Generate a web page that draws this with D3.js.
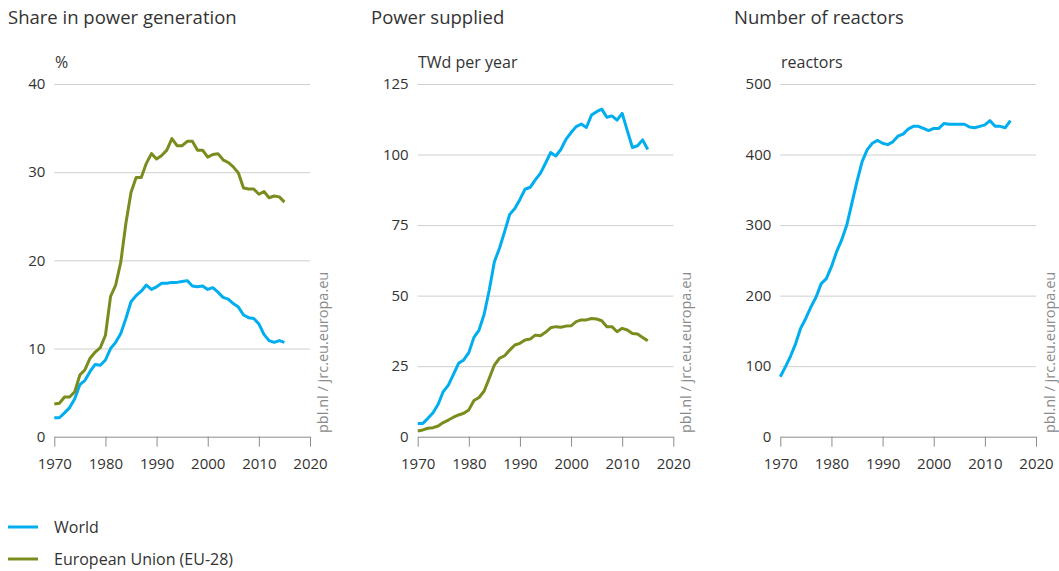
<!DOCTYPE html>
<html lang="en">
<head>
<meta charset="UTF-8" />
<title>Nuclear power</title>
<style>
  body { margin: 0; background: #fff; }
  svg text { font-family: "Open Sans", "Noto Sans", sans-serif; fill: #333; }
  .title { font-size: 18.5px; }
  .unit { font-size: 16px; }
  .tick text { font-size: 15px; fill: #333; }
  .grid line { stroke: #cfcfcf; stroke-width: 1; }
  .grid path { display: none; }
  .xaxis path, .xaxis line { stroke: #8c8c8c; }
  .source { font-size: 14.5px; fill: #8a8a8a !important; }
  .legend text { font-size: 16px; }
</style>
</head>
<body>
<svg id="chart" width="1059" height="571"></svg>
<script src="https://d3js.org/d3.v7.min.js"></script>
<script>
const years = d3.range(1970, 2016);

const worldShare = [2.15, 2.15, 2.7, 3.3, 4.3, 5.9, 6.4, 7.4, 8.2, 8.1,
  8.7, 10.0, 10.7, 11.7, 13.4, 15.3, 16.0, 16.5, 17.2, 16.7,
  17.0, 17.4, 17.4, 17.5, 17.5, 17.6, 17.7, 17.1, 17.0, 17.1,
  16.7, 16.9, 16.4, 15.8, 15.6, 15.1, 14.7, 13.8, 13.5, 13.4,
  12.8, 11.6, 10.9, 10.7, 10.9, 10.7];
const euShare = [3.7, 3.8, 4.5, 4.5, 5.1, 7.0, 7.6, 8.9, 9.6, 10.1,
  11.5, 15.9, 17.2, 19.8, 24.2, 27.7, 29.4, 29.4, 31.0, 32.1,
  31.5, 31.9, 32.5, 33.8, 33.0, 33.0, 33.5, 33.5, 32.5, 32.5,
  31.7, 32.0, 32.1, 31.4, 31.1, 30.6, 29.9, 28.2, 28.1, 28.1,
  27.5, 27.8, 27.1, 27.3, 27.2, 26.6];

const worldSupply = [4.7, 4.7, 6.5, 8.5, 11.5, 16.0, 18.3, 22.1, 26.0, 27.2,
  29.8, 35.2, 37.8, 43.4, 52.0, 62.0, 66.8, 72.7, 78.8, 80.9,
  84.1, 87.7, 88.4, 91.0, 93.3, 96.9, 100.7, 99.5, 101.8, 105.4,
  107.8, 109.9, 110.8, 109.6, 114.0, 115.2, 116.1, 113.2, 113.7, 112.2,
  114.6, 108.5, 102.5, 103.1, 105.2, 101.8];
const euSupply = [2.0, 2.4, 3.0, 3.2, 3.8, 5.0, 5.9, 6.9, 7.7, 8.3,
  9.5, 12.8, 13.9, 16.2, 20.7, 25.4, 27.8, 28.7, 30.7, 32.5,
  33.1, 34.3, 34.6, 36.0, 35.8, 37.0, 38.6, 39.0, 38.8, 39.2,
  39.3, 40.8, 41.4, 41.4, 41.9, 41.7, 41.1, 39.0, 39.0, 37.2,
  38.4, 37.8, 36.6, 36.4, 35.2, 34.0];

const worldReactors = [85, 99, 114, 132, 154, 168, 184, 198, 217, 224,
  241, 262, 279, 300, 331, 362, 390, 407, 416, 420,
  416, 414, 418, 426, 429, 436, 440, 440, 437, 434,
  437, 437, 444, 443, 443, 443, 443, 439, 438, 440,
  442, 448, 440, 440, 438, 448];

const xTicks = [1970, 1980, 1990, 2000, 2010, 2020];
const seriesNames = ['World', 'European Union (EU-28)'];
const colors = { 'World': '#00aeef', 'European Union (EU-28)': '#7a8c1e' };

const panels = [
  { title: 'Share in power generation', unit: '%', max: 40, ticks: [0, 10, 20, 30, 40],
    left: 54.3, right: 310, titleX: 8, unitX: 55, srcX: 328,
    series: [['World', worldShare], ['European Union (EU-28)', euShare]] },
  { title: 'Power supplied', unit: 'TWd per year', max: 125, ticks: [0, 25, 50, 75, 100, 125],
    left: 417.7, right: 673.3, titleX: 371, unitX: 418, srcX: 691,
    series: [['European Union (EU-28)', euSupply], ['World', worldSupply]] },
  { title: 'Number of reactors', unit: 'reactors', max: 500, ticks: [0, 100, 200, 300, 400, 500],
    left: 780.3, right: 1036, titleX: 734, unitX: 781, srcX: 1055,
    series: [['World', worldReactors]] }
];

const svg = d3.select('#chart');
const plotTop = 84, plotBottom = 436.7;

panels.forEach(p => {
  const g = svg.append('g');
  const x = d3.scaleLinear().domain([1970, 2020]).range([p.left, p.right]);
  const y = d3.scaleLinear().domain([0, p.max]).range([plotBottom, plotTop]);

  g.append('text').attr('class', 'title').attr('x', p.titleX).attr('y', 24).text(p.title);
  g.append('text').attr('class', 'unit').attr('x', p.unitX).attr('y', 68).text(p.unit);

  // gridlines + y labels
  g.append('g').attr('class', 'grid')
    .attr('transform', `translate(${p.left},0)`)
    .call(d3.axisLeft(y).tickValues(p.ticks.filter(t => t > 0)).tickSize(-(p.right - p.left)).tickPadding(9));
  g.append('text')
    .attr('x', p.left - 9).attr('y', plotBottom).attr('dy', '0.32em')
    .attr('text-anchor', 'end').style('font-size', '15px').text('0');

  // x axis
  g.append('g').attr('class', 'xaxis')
    .attr('transform', `translate(0,${plotBottom})`)
    .call(d3.axisBottom(x).tickValues(xTicks).tickFormat(d3.format('d')).tickSize(10).tickPadding(12).tickSizeOuter(0))
    .call(a => a.selectAll('.tick text').style('font-size', '15px'));

  // source text
  g.append('text').attr('class', 'source')
    .attr('transform', `translate(${p.srcX},433) rotate(-90)`)
    .text('pbl.nl / jrc.eu.europa.eu');

  const line = d3.line().x((d, i) => x(years[i])).y(d => y(d));
  p.series.forEach(([name, vals]) => {
    g.append('path').datum(vals)
      .attr('fill', 'none')
      .attr('stroke', colors[name])
      .attr('stroke-width', 3)
      .attr('stroke-linejoin', 'round')
      .attr('d', line);
  });
});

// legend
const legend = svg.append('g').attr('class', 'legend');
seriesNames.forEach((name, i) => {
  const ly = 527 + i * 32;
  legend.append('line').attr('x1', 8).attr('x2', 38).attr('y1', ly).attr('y2', ly)
    .attr('stroke', colors[name]).attr('stroke-width', 3);
  legend.append('text').attr('x', 54).attr('y', ly).attr('dy', '0.35em').text(name);
});
</script>
</body>
</html>
